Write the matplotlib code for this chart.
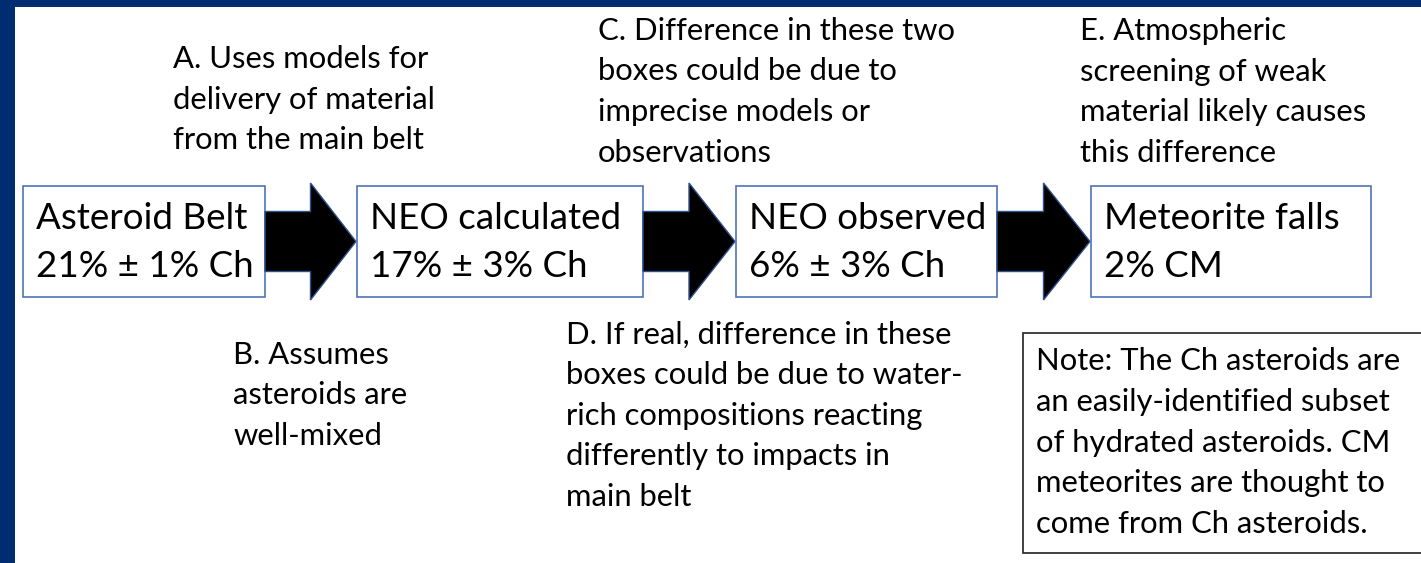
import matplotlib.pyplot as plt
from matplotlib.patches import Rectangle, Polygon

# stages of the flow (box title, fraction)
stage_names = ["Asteroid Belt", "NEO calculated", "NEO observed", "Meteorite falls"]
stage_values = ["21% \u00b1 1% Ch", "17% \u00b1 3% Ch", "6% \u00b1 3% Ch", "2% CM"]

# side notes
note_a = ["A. Uses models for", "delivery of material", "from the main belt"]
note_b = ["B. Assumes", "asteroids are", "well-mixed"]
note_c = ["C. Difference in these two", "boxes could be due to",
          "imprecise models or", "observations"]
note_d = ["D. If real, difference in these", "boxes could be due to water-",
          "rich compositions reacting", "differently to impacts in", "main belt"]
note_e = ["E. Atmospheric", "screening of weak",
          "material likely causes", "this difference"]
note_box = ["Note: The Ch asteroids are", "an easily-identified subset",
            "of hydrated asteroids. CM", "meteorites are thought to",
            "come from Ch asteroids."]

# layout in pixels (figure is 1421 x 563)
W, H = 1421, 563
box_left = [23, 357, 736, 1091]
box_right = [265, 643, 997, 1371]
box_top, box_bottom = 186, 297
text_pad = 13
FONT = "Lato"
NAVY = "#002D72"
BOX_EDGE = "#4F73B8"
NOTE_SIZE = 22.3
BOX_SIZE = 26.5

fig = plt.figure(figsize=(W / 100, H / 100), dpi=100)
ax = fig.add_axes([0, 0, 1, 1])
ax.set_xlim(0, W)
ax.set_ylim(H, 0)
ax.axis("off")

# slide frame
ax.add_patch(Rectangle((0, 0), W, 7, color=NAVY, lw=0))
ax.add_patch(Rectangle((0, 0), 15, H, color=NAVY, lw=0))


def draw_lines(x, y0, lines, size=NOTE_SIZE, pitch=40.5):
    for i, line in enumerate(lines):
        ax.text(x, y0 + i * pitch, line, fontsize=size, family=FONT,
                ha="left", va="baseline", color="black")


# boxes and arrows
yc = (box_top + box_bottom) / 2
for i, (name, val) in enumerate(zip(stage_names, stage_values)):
    x0, x1 = box_left[i], box_right[i]
    ax.add_patch(Rectangle((x0, box_top), x1 - x0, box_bottom - box_top,
                           facecolor="white", edgecolor=BOX_EDGE, lw=1.2))
    ax.text(x0 + text_pad, 229, name, fontsize=BOX_SIZE, family=FONT,
            ha="left", va="baseline")
    ax.text(x0 + text_pad, 277, val, fontsize=BOX_SIZE, family=FONT,
            ha="left", va="baseline")
    if i < len(stage_names) - 1:
        a0 = x1
        tip = box_left[i + 1] - 1
        head = (a0 + tip) / 2
        pts = [(a0, yc - 30), (head, yc - 30), (head, yc - 58.5), (tip, yc),
               (head, yc + 58.5), (head, yc + 30), (a0, yc + 30)]
        ax.add_patch(Polygon(pts, closed=True, facecolor="black",
                             edgecolor="#2F528F", lw=1))

draw_lines(173, 68, note_a)
draw_lines(233, 364, note_b)
draw_lines(598, 40, note_c)
draw_lines(566, 344, note_d)
draw_lines(1080, 40, note_e)

ax.add_patch(Rectangle((1023, 333), W, 553 - 333, facecolor="white",
                       edgecolor="#333333", lw=1.3))
draw_lines(1036, 370, note_box, pitch=40.8)

fig.savefig("out.png", dpi=100)
